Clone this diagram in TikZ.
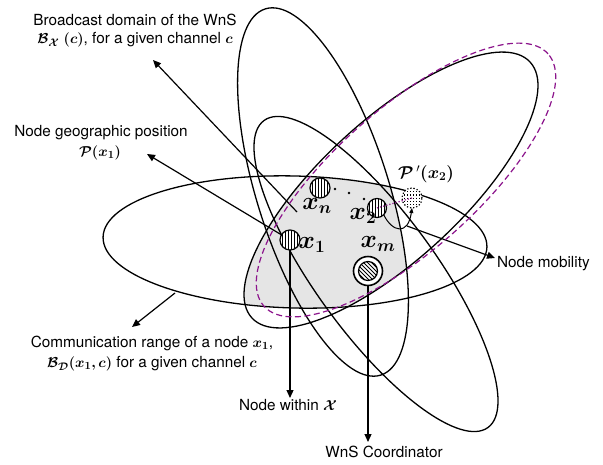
\documentclass[tikz,border=0pt]{standalone}
\usepackage{fontspec}
\setmainfont{TeX Gyre Heros}
\usepackage{bm}
\usetikzlibrary{arrows.meta}
\definecolor{purp}{RGB}{140,20,140}
\begin{document}
\begin{tikzpicture}[x=1pt,y=-1pt,
  every node/.style={inner sep=0pt, outer sep=0pt},
  lbl/.style={font=\fontsize{15.3}{17}\selectfont, anchor=center},
  xl/.style={font=\fontsize{26}{26}\selectfont, anchor=center},
  ell/.style={line width=1.3pt},
  pd/.style={draw=purp, line width=1.2pt, dash pattern=on 6pt off 3.5pt},
  arr/.style={line width=1.2pt, -{Triangle[length=8pt,width=7pt]}},
  vhatch/.style={path picture={\foreach \d in {-7.5,-4.5,...,7.5}{\draw[line width=0.9pt] ([xshift=\d pt]path picture bounding box.north) -- ([xshift=\d pt]path picture bounding box.south);}}},
  hnode/.style={circle, draw, line width=1.2pt, fill=white, minimum size=20pt, vhatch},
  pnode/.style={circle, draw, dotted, line width=1.2pt, fill=white, minimum size=20pt, vhatch},
  cnode/.style={circle, draw, line width=1.6pt, fill=white, minimum size=29pt,
    path picture={
      \begin{scope}
      \clip (path picture bounding box.center) circle (9.5pt);
      \foreach \d in {-20,-16,...,20}{\draw[line width=1pt] ([shift={(\d pt-14pt,14pt)}]path picture bounding box.center) -- ([shift={(\d pt+14pt,-14pt)}]path picture bounding box.center);}
      \end{scope}
      \draw[line width=1.2pt] (path picture bounding box.center) circle (9.5pt);}}
]
\useasboundingbox (0,0) rectangle (603,464);
\fill[white] (0,0) rectangle (603,464);

% gray region (intersection)
\begin{scope}
\clip[rotate around={-1.5:(295,242)}] (295,242) ellipse [x radius=192pt, y radius=66pt];
\clip[rotate around={42.6:(391,190)}] (391,190) ellipse [x radius=189pt, y radius=70pt];
\fill[black!10, rotate around={-72.5:(323,192)}] (323,192) ellipse [x radius=192pt, y radius=66pt];
\fill[black!10] (0,0) rectangle (300,464);
\end{scope}

% ellipses
\draw[ell, rotate around={-1.5:(295,242)}] (295,242) ellipse [x radius=192pt, y radius=66pt];
\draw[ell, rotate around={-72.5:(323,192)}] (323,192) ellipse [x radius=192pt, y radius=66pt];
\draw[ell, rotate around={-53.9:(376,274)}] (376,274) ellipse [x radius=190pt, y radius=60pt];
\draw[ell, rotate around={42.6:(391,190)}] (391,190) ellipse [x radius=189pt, y radius=70pt];

% connector end points
\coordinate (bcS) at (297,212);
\coordinate (bcT) at (153,60);
\coordinate (geoT) at (147,154);
\coordinate (comS) at (175,293);
\coordinate (comT) at (132,327);
\coordinate (winT) at (290,398);
\coordinate (crdT) at (368,442);
\coordinate (mobS) at (407,226);
\coordinate (mobT) at (495,258);

% nodes
\node[hnode] (x1) at (290,240) {};
\node[hnode] (xn) at (320,188) {};
\node[hnode, minimum size=19pt] (x2) at (377,208) {};
\node[pnode] (P) at (412,198) {};
\node[cnode] (xm) at (368,271) {};

% connectors
\draw[arr] (bcS) -- (bcT);
\draw[arr] (x1) -- (geoT);
\draw[arr] (comS) -- (comT);
\draw[arr] (x1.south) -- (winT);
\draw[arr] (xm.south) -- (crdT);
\draw[arr] (mobS) -- (mobT);
\draw[line width=1pt, -{Triangle[length=5pt,width=4pt]}] (x2.south east) .. controls (392,232) and (408,236) .. (P.south);
\draw[purp, line width=1.2pt, dotted] (x2.center) -- (P.center);

% dots
\fill (335,189) circle (1.3pt) (349,193) circle (1.3pt) (364,199) circle (1.3pt);

% purple dashed ellipse
\draw[pd, rotate around={41.6:(406,180)}] (406,180) ellipse [x radius=190pt, y radius=71pt];

% labels
\node[xl] (lx1) at (312,245) {$\bm{x}_{\bm{1}}$};
\node[xl] (lxn) at (317,206) {$\bm{x}_{\bm{n}}$};
\node[xl] (lx2) at (363,216) {$\bm{x}_{\bm{2}}$};
\node[xl] (lxm) at (378,244) {$\bm{x}_{\bm{m}}$};
\node[font=\fontsize{17}{17}\selectfont] (lP) at (426,174) {$\bm{\mathcal{P}}\,'\bm{(x_2)}$};

\node[lbl] (bc1) at (135,20) {Broadcast domain of the WnS};
\node[lbl] (bc2) at (135,40) {$\bm{\mathcal{B}_{\mathcal{X}}\ (c)}$, for a given channel $\bm{c}$};
\node[lbl] (geo1) at (101,133) {Node geographic position};
\node[lbl] (geo2) at (100,153) {$\bm{\mathcal{P}(x_1)}$};
\node[lbl] (com1) at (152,343) {Communication range of a node $\bm{x_1}$,};
\node[lbl] (com2) at (152,364) {$\bm{\mathcal{B}_{\mathcal{D}}(x_1,c)}$ for a given channel $\bm{c}$};
\node[lbl] (win) at (288,405) {Node within $\bm{\mathcal{X}}$};
\node[lbl] (crd) at (384,452) {WnS Coordinator};
\node[lbl, anchor=west] (mob) at (497,264) {Node mobility};
\end{tikzpicture}
\end{document}
